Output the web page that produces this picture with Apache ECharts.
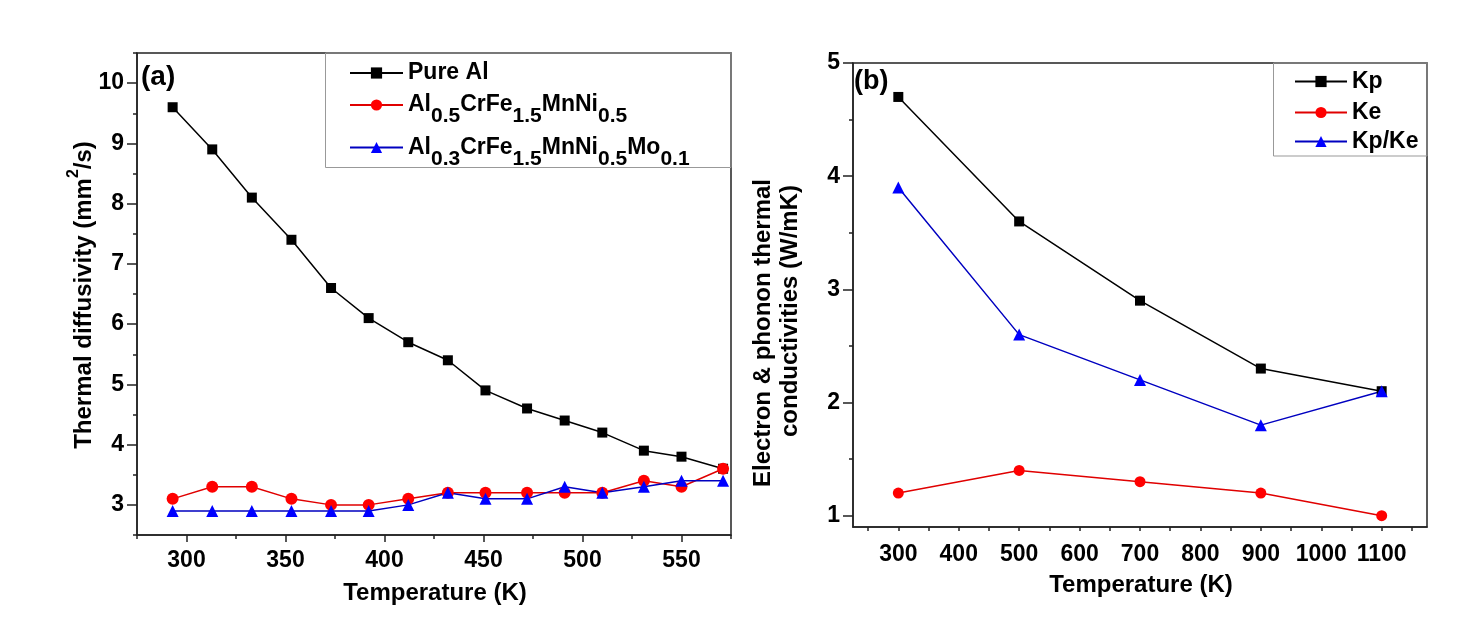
<!DOCTYPE html>
<html><head><meta charset="utf-8">
<script src="https://cdn.jsdelivr.net/npm/echarts@6/dist/echarts.min.js"></script>
<style>html,body{margin:0;padding:0;background:#fff}#c{width:1457px;height:632px}</style>
</head><body><div id="c"></div>
<script>
// ---- Panel (a) data ----
const tempA = [293, 313, 333, 353, 373, 392, 412, 432, 451, 472, 491, 510, 531, 550, 571];
const pureAl = [9.6, 8.9, 8.1, 7.4, 6.6, 6.1, 5.7, 5.4, 4.9, 4.6, 4.4, 4.2, 3.9, 3.8, 3.6];
const alCrFe = [3.1, 3.3, 3.3, 3.1, 3.0, 3.0, 3.1, 3.2, 3.2, 3.2, 3.2, 3.2, 3.4, 3.3, 3.6];
const alCrFeMo = [2.9, 2.9, 2.9, 2.9, 2.9, 2.9, 3.0, 3.2, 3.1, 3.1, 3.3, 3.2, 3.3, 3.4, 3.4];
// ---- Panel (b) data ----
const tempB = [300, 500, 700, 900, 1100];
const kp = [4.7, 3.6, 2.9, 2.3, 2.1];
const ke = [1.2, 1.4, 1.3, 1.2, 1.0];
const kpke = [3.9, 2.6, 2.2, 1.8, 2.1];
// ---- tick values ----
const ticksAx = [300, 350, 400, 450, 500, 550];
const minorAx = [275, 300, 325, 350, 375, 400, 425, 450, 475, 500, 525, 550, 575];
const ticksAy = [3, 4, 5, 6, 7, 8, 9, 10];
const minorAy = [2.5, 3.5, 4.5, 5.5, 6.5, 7.5, 8.5, 9.5, 10.5];
const ticksBx = [300, 400, 500, 600, 700, 800, 900, 1000, 1100];
const minorBx = [250, 300, 350, 400, 450, 500, 550, 600, 650, 700, 750, 800, 850, 900, 950, 1000, 1050, 1100, 1150];
const ticksBy = [1, 2, 3, 4, 5];
const minorBy = [1.5, 2.5, 3.5, 4.5];

const N1 = 'Pure Al', N2 = 'Al0.5CrFe1.5MnNi0.5', N3 = 'Al0.3CrFe1.5MnNi0.5Mo0.1';
const legendText = {
  [N1]: '{m|Pure Al}',
  [N2]: '{m|Al}{s|0.5}{m|CrFe}{s|1.5}{m|MnNi}{s|0.5}',
  [N3]: '{m|Al}{s|0.3}{m|CrFe}{s|1.5}{m|MnNi}{s|0.5}{m|Mo}{s|0.1}',
  'Kp': '{m|Kp}', 'Ke': '{m|Ke}', 'Kp/Ke': '{m|Kp/Ke}'
};

const FF = '"Liberation Sans", Arial, Helvetica, sans-serif';
const AX = '#222';
const lblStyle = { fontFamily: FF, fontWeight: 'bold', fontSize: 23, color: '#000', formatter: v => String(v) };
const legRich = {
  m: { fontFamily: FF, fontWeight: 'bold', fontSize: 23, lineHeight: 26, color: '#000' },
  s: { fontFamily: FF, fontWeight: 'bold', fontSize: 21, lineHeight: 18, padding: [23, 0, 0, 0], color: '#000' }
};

function mainX(grid, min, max, ticks, margin, tickLen) {
  return { gridIndex: grid, type: 'value', min, max, position: 'bottom',
    axisLine: { show: true, onZero: false, lineStyle: { color: AX, width: 1.5 } },
    axisTick: { show: true, customValues: ticks, length: tickLen, lineStyle: { color: AX, width: 1.5 } },
    axisLabel: Object.assign({ customValues: ticks, margin }, lblStyle),
    splitLine: { show: false } };
}
function minorX(grid, min, max, ticks) {
  return { gridIndex: grid, type: 'value', min, max, position: 'bottom',
    axisLine: { show: false, onZero: false },
    axisTick: { show: true, customValues: ticks, length: 4, lineStyle: { color: AX, width: 1.5 } },
    axisLabel: { show: false }, splitLine: { show: false } };
}
function mainY(grid, min, max, ticks, margin) {
  return { gridIndex: grid, type: 'value', min, max, position: 'left',
    axisLine: { show: true, onZero: false, lineStyle: { color: AX, width: 1.5 } },
    axisTick: { show: true, customValues: ticks, length: 10, lineStyle: { color: AX, width: 1.5 } },
    axisLabel: Object.assign({ customValues: ticks, margin }, lblStyle),
    splitLine: { show: false } };
}
function minorY(grid, min, max, ticks) {
  return { gridIndex: grid, type: 'value', min, max, position: 'left',
    axisLine: { show: false, onZero: false },
    axisTick: { show: true, customValues: ticks, length: 4, lineStyle: { color: AX, width: 1.5 } },
    axisLabel: { show: false }, splitLine: { show: false } };
}
function zip(xs, ys) { return xs.map((x, i) => [x, ys[i]]); }
function ser(name, xi, yi, xs, ys, symbol, size, lineColor, markColor) {
  return { type: 'line', name, xAxisIndex: xi, yAxisIndex: yi, data: zip(xs, ys),
    symbol, symbolSize: size, showSymbol: true,
    lineStyle: { color: lineColor, width: 1.5 },
    itemStyle: { color: markColor, borderWidth: 0 } };
}
function leg(name, left, top, w) {
  return { data: [name], left, top, orient: 'vertical', padding: 0,
    itemWidth: w, itemHeight: 14, selectedMode: false,
    formatter: n => legendText[n], textStyle: { rich: legRich } };
}

const option = {
  animation: false,
  backgroundColor: '#fff',
  grid: [
    { left: 137, top: 53, width: 594, height: 482, show: true, borderColor: AX, borderWidth: 1.5 },
    { left: 853, top: 63, width: 574, height: 464, show: true, borderColor: AX, borderWidth: 1.5 }
  ],
  xAxis: [
    mainX(0, 275, 575, ticksAx, 14, 7), minorX(0, 275, 575, minorAx),
    mainX(1, 225, 1175, ticksBx, 16, 4), minorX(1, 225, 1175, minorBx)
  ],
  yAxis: [
    mainY(0, 2.5, 10.5, ticksAy, 13), minorY(0, 2.5, 10.5, minorAy),
    mainY(1, 0.9, 5, ticksBy, 13), minorY(1, 0.9, 5, minorBy)
  ],
  legend: [
    leg(N1, 349, 61.5, 53), leg(N2, 349, 83, 53), leg(N3, 349, 125.5, 53),
    leg('Kp', 1294, 70, 52), leg('Ke', 1294, 101, 52), leg('Kp/Ke', 1294, 130, 52)
  ],
  graphic: [
    { type: 'rect', shape: { x: 325.5, y: 53, width: 405.5, height: 114.5 }, style: { fill: 'none', stroke: '#999', lineWidth: 1 }, z: 1 },
    { type: 'rect', shape: { x: 1273.5, y: 63, width: 153.5, height: 93 }, style: { fill: 'none', stroke: '#999', lineWidth: 1 }, z: 1 },
    { type: 'text', x: 141, y: 77, style: { text: '(a)', font: 'bold 28px ' + FF, fill: '#000', verticalAlign: 'middle' } },
    { type: 'text', x: 854, y: 82, style: { text: '(b)', font: 'bold 27px ' + FF, fill: '#000', verticalAlign: 'middle' } },
    { type: 'text', x: 435, y: 593, style: { text: 'Temperature (K)', font: 'bold 24px ' + FF, fill: '#000', align: 'center', verticalAlign: 'middle' } },
    { type: 'text', x: 1141, y: 585, style: { text: 'Temperature (K)', font: 'bold 24px ' + FF, fill: '#000', align: 'center', verticalAlign: 'middle' } },
    { type: 'text', x: 84, y: 295, rotation: Math.PI / 2,
      style: { text: '{m|Thermal diffusivity (mm}{p|2}{m|/s)}', align: 'center', verticalAlign: 'middle',
        rich: { m: { fontFamily: FF, fontWeight: 'bold', fontSize: 24, lineHeight: 26, fill: '#000', color: '#000' },
                p: { fontFamily: FF, fontWeight: 'bold', fontSize: 16, lineHeight: 16, padding: [0, 0, 20, 0], fill: '#000', color: '#000' } } } },
    { type: 'text', x: 763, y: 333, rotation: Math.PI / 2,
      style: { text: 'Electron & phonon thermal', font: 'bold 24px ' + FF, fill: '#000', align: 'center', verticalAlign: 'middle' } },
    { type: 'text', x: 790, y: 311, rotation: Math.PI / 2,
      style: { text: 'conductivities (W/mK)', font: 'bold 24px ' + FF, fill: '#000', align: 'center', verticalAlign: 'middle' } }
  ],
  series: [
    ser(N1, 0, 0, tempA, pureAl, 'rect', 10, '#000', '#000'),
    ser(N2, 0, 0, tempA, alCrFe, 'circle', 12, '#e00000', '#ff0000'),
    ser(N3, 0, 0, tempA, alCrFeMo, 'triangle', 12, '#0000c0', '#0000ff'),
    ser('Kp', 2, 2, tempB, kp, 'rect', 10, '#000', '#000'),
    ser('Ke', 2, 2, tempB, ke, 'circle', 11, '#e00000', '#ff0000'),
    ser('Kp/Ke', 2, 2, tempB, kpke, 'triangle', 12, '#0000c0', '#0000ff')
  ]
};
const chart = echarts.init(document.getElementById('c'), null, { renderer: 'canvas' });
chart.setOption(option);
</script></body></html>
